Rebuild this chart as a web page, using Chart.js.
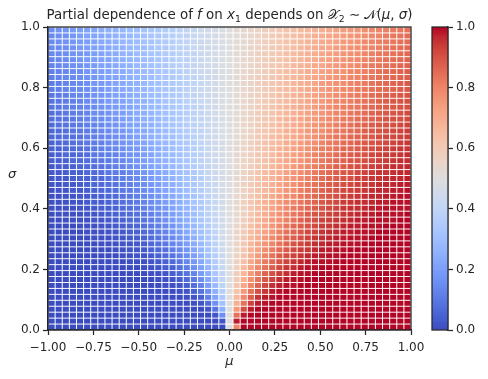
<!DOCTYPE html>
<html>
<head>
<meta charset="utf-8">
<script src="https://cdn.jsdelivr.net/npm/chart.js@4.4.1/dist/chart.umd.min.js"></script>
<style>
  html, body { margin: 0; padding: 0; background: #fff; }
  #wrap { position: relative; width: 488px; height: 379px; }
  #heat { position: absolute; left: 0; top: 0; }
  #cbar { position: absolute; left: 420px; top: 0; }
</style>
</head>
<body>
<div id="wrap">
  <canvas id="heat" width="436" height="379"></canvas>
  <canvas id="cbar" width="68" height="379"></canvas>
</div>
<script>
// ---- data ----
const muRange = [-1, 1];
const sigmaRange = [0, 1];
const muTicks = [-1, -0.75, -0.5, -0.25, 0, 0.25, 0.5, 0.75, 1];
const sigmaTicks = [0, 0.2, 0.4, 0.6, 0.8, 1];
const cbarTicks = [0, 0.2, 0.4, 0.6, 0.8, 1];

// partial dependence (percent), one row per sigma cell from the top (sigma = 1) down to sigma = 0,
// each row runs over mu from -1 to 1
const pdRows = [
  [16,17,18,19,20,21,22,24,25,26,27,29,30,32,33,34,36,37,39,41,42,44,45,47,48,50,52,53,55,56,58,59,61,63,64,66,67,68,70,71,73,74,75,76,78,79,80,81,82,83,84],
  [15,16,17,18,20,21,22,23,24,26,27,28,30,31,33,34,36,37,39,40,42,44,45,47,48,50,52,53,55,56,58,60,61,63,64,66,67,69,70,72,73,74,76,77,78,79,80,82,83,84,85],
  [15,16,17,18,19,20,21,23,24,25,27,28,29,31,32,34,35,37,39,40,42,43,45,47,48,50,52,53,55,57,58,60,61,63,65,66,68,69,71,72,73,75,76,77,79,80,81,82,83,84,85],
  [14,15,16,17,19,20,21,22,23,25,26,28,29,30,32,34,35,37,38,40,42,43,45,47,48,50,52,53,55,57,58,60,62,63,65,66,68,70,71,72,74,75,77,78,79,80,81,83,84,85,86],
  [14,15,16,17,18,19,20,22,23,24,26,27,29,30,32,33,35,36,38,40,41,43,45,47,48,50,52,53,55,57,59,60,62,64,65,67,68,70,71,73,74,76,77,78,80,81,82,83,84,85,86],
  [13,14,15,16,18,19,20,21,22,24,25,27,28,30,31,33,34,36,38,39,41,43,45,46,48,50,52,54,55,57,59,61,62,64,66,67,69,70,72,73,75,76,78,79,80,81,82,84,85,86,87],
  [13,14,15,16,17,18,19,21,22,23,25,26,28,29,31,32,34,36,38,39,41,43,45,46,48,50,52,54,55,57,59,61,62,64,66,68,69,71,72,74,75,77,78,79,81,82,83,84,85,86,87],
  [12,13,14,15,16,18,19,20,21,23,24,26,27,29,30,32,34,35,37,39,41,43,44,46,48,50,52,54,56,57,59,61,63,65,66,68,70,71,73,74,76,77,79,80,81,82,84,85,86,87,88],
  [12,13,14,15,16,17,18,20,21,22,24,25,27,28,30,32,33,35,37,39,41,42,44,46,48,50,52,54,56,58,59,61,63,65,67,68,70,72,73,75,76,78,79,80,82,83,84,85,86,87,88],
  [11,12,13,14,15,16,18,19,20,22,23,25,26,28,30,31,33,35,37,38,40,42,44,46,48,50,52,54,56,58,60,62,63,65,67,69,70,72,74,75,77,78,80,81,82,84,85,86,87,88,89],
  [11,12,13,14,15,16,17,18,20,21,23,24,26,27,29,31,33,34,36,38,40,42,44,46,48,50,52,54,56,58,60,62,64,66,67,69,71,73,74,76,77,79,80,82,83,84,85,86,87,88,89],
  [10,11,12,13,14,15,17,18,19,21,22,24,25,27,29,30,32,34,36,38,40,42,44,46,48,50,52,54,56,58,60,62,64,66,68,70,71,73,75,76,78,79,81,82,83,85,86,87,88,89,90],
  [9,10,11,12,13,15,16,17,19,20,21,23,25,26,28,30,32,34,36,38,40,42,44,46,48,50,52,54,56,58,60,62,64,66,68,70,72,74,75,77,79,80,81,83,84,85,87,88,89,90,91],
  [9,10,11,12,13,14,15,17,18,19,21,22,24,26,28,29,31,33,35,37,39,41,44,46,48,50,52,54,56,59,61,63,65,67,69,71,72,74,76,78,79,81,82,83,85,86,87,88,89,90,91],
  [8,9,10,11,12,13,15,16,17,19,20,22,24,25,27,29,31,33,35,37,39,41,43,46,48,50,52,54,57,59,61,63,65,67,69,71,73,75,76,78,80,81,83,84,85,87,88,89,90,91,92],
  [8,9,9,10,12,13,14,15,17,18,20,21,23,25,26,28,30,32,34,37,39,41,43,45,48,50,52,55,57,59,61,63,66,68,70,72,74,75,77,79,80,82,83,85,86,87,88,90,91,91,92],
  [7,8,9,10,11,12,13,14,16,17,19,21,22,24,26,28,30,32,34,36,38,41,43,45,48,50,52,55,57,59,62,64,66,68,70,72,74,76,78,79,81,83,84,86,87,88,89,90,91,92,93],
  [6,7,8,9,10,11,12,14,15,17,18,20,22,23,25,27,29,31,34,36,38,40,43,45,48,50,52,55,57,60,62,64,66,69,71,73,75,77,78,80,82,83,85,86,88,89,90,91,92,93,94],
  [6,7,8,8,9,11,12,13,14,16,17,19,21,23,25,27,29,31,33,35,38,40,43,45,48,50,52,55,57,60,62,65,67,69,71,73,75,77,79,81,83,84,86,87,88,89,91,92,92,93,94],
  [5,6,7,8,9,10,11,12,14,15,17,18,20,22,24,26,28,30,33,35,37,40,42,45,47,50,53,55,58,60,63,65,67,70,72,74,76,78,80,82,83,85,86,88,89,90,91,92,93,94,95],
  [5,5,6,7,8,9,10,12,13,14,16,18,19,21,23,25,27,30,32,34,37,39,42,45,47,50,53,55,58,61,63,66,68,70,73,75,77,79,81,82,84,86,87,88,90,91,92,93,94,95,95],
  [4,5,6,6,7,8,10,11,12,13,15,17,18,20,22,25,27,29,31,34,37,39,42,45,47,50,53,55,58,61,63,66,69,71,73,75,78,80,82,83,85,87,88,89,90,92,93,94,94,95,96],
  [4,4,5,6,7,8,9,10,11,13,14,16,18,20,22,24,26,28,31,33,36,39,42,44,47,50,53,56,58,61,64,67,69,72,74,76,78,80,82,84,86,87,89,90,91,92,93,94,95,96,96],
  [3,4,4,5,6,7,8,9,10,12,13,15,17,19,21,23,25,28,30,33,36,38,41,44,47,50,53,56,59,62,64,67,70,72,75,77,79,81,83,85,87,88,90,91,92,93,94,95,96,96,97],
  [3,3,4,5,5,6,7,8,10,11,12,14,16,18,20,22,24,27,30,32,35,38,41,44,47,50,53,56,59,62,65,68,70,73,76,78,80,82,84,86,88,89,90,92,93,94,95,95,96,97,97],
  [2,3,3,4,5,5,6,7,9,10,12,13,15,17,19,21,24,26,29,32,34,37,41,44,47,50,53,56,59,63,66,68,71,74,76,79,81,83,85,87,88,90,91,93,94,95,95,96,97,97,98],
  [2,2,3,3,4,5,6,7,8,9,11,12,14,16,18,20,23,25,28,31,34,37,40,43,47,50,53,57,60,63,66,69,72,75,77,80,82,84,86,88,89,91,92,93,94,95,96,97,97,98,98],
  [1,2,2,3,3,4,5,6,7,8,10,11,13,15,17,19,22,24,27,30,33,36,40,43,47,50,53,57,60,64,67,70,73,76,78,81,83,85,87,89,90,92,93,94,95,96,97,97,98,98,99],
  [1,1,2,2,3,3,4,5,6,7,9,10,12,14,16,18,21,23,26,29,32,36,39,43,46,50,54,57,61,64,68,71,74,77,79,82,84,86,88,90,91,93,94,95,96,97,97,98,98,99,99],
  [1,1,1,2,2,3,4,4,5,6,8,9,11,13,15,17,20,22,25,28,32,35,39,42,46,50,54,58,61,65,68,72,75,78,80,83,85,87,89,91,92,94,95,96,96,97,98,98,99,99,99],
  [1,1,1,1,2,2,3,4,4,5,7,8,10,12,14,16,18,21,24,27,31,34,38,42,46,50,54,58,62,66,69,73,76,79,82,84,86,88,90,92,93,95,96,96,97,98,98,99,99,99,99],
  [0,1,1,1,1,2,2,3,4,5,6,7,9,10,12,15,17,20,23,26,30,34,38,42,46,50,54,58,62,66,70,74,77,80,83,85,88,90,91,93,94,95,96,97,98,98,99,99,99,99,100],
  [0,0,1,1,1,1,2,2,3,4,5,6,7,9,11,13,16,19,22,25,29,33,37,41,46,50,54,59,63,67,71,75,78,81,84,87,89,91,93,94,95,96,97,98,98,99,99,99,99,100,100],
  [0,0,0,0,1,1,1,2,2,3,4,5,6,8,10,12,14,17,21,24,28,32,36,41,45,50,55,59,64,68,72,76,79,83,86,88,90,92,94,95,96,97,98,98,99,99,99,100,100,100,100],
  [0,0,0,0,0,1,1,1,2,2,3,4,5,7,8,11,13,16,19,23,27,31,35,40,45,50,55,60,65,69,73,77,81,84,87,89,92,93,95,96,97,98,98,99,99,99,100,100,100,100,100],
  [0,0,0,0,0,0,1,1,1,2,2,3,4,5,7,9,12,14,18,21,25,30,34,39,45,50,55,61,66,70,75,79,82,86,88,91,93,95,96,97,98,98,99,99,99,100,100,100,100,100,100],
  [0,0,0,0,0,0,0,1,1,1,2,2,3,4,6,8,10,13,16,20,24,28,33,39,44,50,56,61,67,72,76,80,84,87,90,92,94,96,97,98,98,99,99,99,100,100,100,100,100,100,100],
  [0,0,0,0,0,0,0,0,0,1,1,2,2,3,5,6,8,11,14,18,22,27,32,38,44,50,56,62,68,73,78,82,86,89,92,94,95,97,98,98,99,99,100,100,100,100,100,100,100,100,100],
  [0,0,0,0,0,0,0,0,0,0,1,1,2,2,3,5,7,9,12,16,20,25,31,37,43,50,57,63,69,75,80,84,88,91,93,95,97,98,98,99,99,100,100,100,100,100,100,100,100,100,100],
  [0,0,0,0,0,0,0,0,0,0,0,1,1,1,2,3,5,7,10,14,18,23,29,36,43,50,57,64,71,77,82,86,90,93,95,97,98,99,99,99,100,100,100,100,100,100,100,100,100,100,100],
  [0,0,0,0,0,0,0,0,0,0,0,0,0,1,1,2,4,5,8,12,16,21,27,34,42,50,58,66,73,79,84,88,92,95,96,98,99,99,100,100,100,100,100,100,100,100,100,100,100,100,100],
  [0,0,0,0,0,0,0,0,0,0,0,0,0,0,1,1,2,4,6,9,13,19,25,33,41,50,59,67,75,81,87,91,94,96,98,99,99,100,100,100,100,100,100,100,100,100,100,100,100,100,100],
  [0,0,0,0,0,0,0,0,0,0,0,0,0,0,0,1,1,2,4,7,11,16,23,31,40,50,60,69,77,84,89,93,96,98,99,99,100,100,100,100,100,100,100,100,100,100,100,100,100,100,100],
  [0,0,0,0,0,0,0,0,0,0,0,0,0,0,0,0,1,1,2,4,8,13,20,28,39,50,61,72,80,87,92,96,98,99,99,100,100,100,100,100,100,100,100,100,100,100,100,100,100,100,100],
  [0,0,0,0,0,0,0,0,0,0,0,0,0,0,0,0,0,0,1,2,5,9,16,25,37,50,63,75,84,91,95,98,99,100,100,100,100,100,100,100,100,100,100,100,100,100,100,100,100,100,100],
  [0,0,0,0,0,0,0,0,0,0,0,0,0,0,0,0,0,0,0,1,2,5,12,21,34,50,66,79,88,95,98,99,100,100,100,100,100,100,100,100,100,100,100,100,100,100,100,100,100,100,100],
  [0,0,0,0,0,0,0,0,0,0,0,0,0,0,0,0,0,0,0,0,1,2,7,16,31,50,69,84,93,98,99,100,100,100,100,100,100,100,100,100,100,100,100,100,100,100,100,100,100,100,100],
  [0,0,0,0,0,0,0,0,0,0,0,0,0,0,0,0,0,0,0,0,0,0,2,9,25,50,75,91,98,100,100,100,100,100,100,100,100,100,100,100,100,100,100,100,100,100,100,100,100,100,100],
  [0,0,0,0,0,0,0,0,0,0,0,0,0,0,0,0,0,0,0,0,0,0,0,2,16,50,84,98,100,100,100,100,100,100,100,100,100,100,100,100,100,100,100,100,100,100,100,100,100,100,100],
  [0,0,0,0,0,0,0,0,0,0,0,0,0,0,0,0,0,0,0,0,0,0,0,0,2,50,98,100,100,100,100,100,100,100,100,100,100,100,100,100,100,100,100,100,100,100,100,100,100,100,100],
  [0,0,0,0,0,0,0,0,0,0,0,0,0,0,0,0,0,0,0,0,0,0,0,0,0,50,80,100,100,100,100,100,100,100,100,100,100,100,100,100,100,100,100,100,100,100,100,100,100,100,100]
];

// ---- colours / fonts ----
// matplotlib "coolwarm" (Moreland), 33 control points
const coolwarm = [
  [59,76,192],[68,90,204],[77,104,215],[87,117,225],[98,130,234],[108,142,241],[119,154,247],[130,165,251],
  [141,176,254],[152,185,255],[163,194,255],[174,201,253],[184,208,249],[194,213,244],[204,217,238],[213,219,230],
  [221,221,221],[229,216,209],[236,211,197],[241,204,185],[245,196,173],[247,187,160],[247,177,148],[247,166,135],
  [244,154,123],[241,141,111],[236,127,99],[229,112,88],[222,96,77],[213,80,66],[203,62,56],[192,40,47],[180,4,38]
];
const INK = '#262626';
const FONT = '"DejaVu Sans", "Liberation Sans", sans-serif';

function cmap(t) {
    t = Math.min(1, Math.max(0, t));
    const p = t * (coolwarm.length - 1);
    const i = Math.min(Math.floor(p), coolwarm.length - 2);
    const f = p - i;
    const a = coolwarm[i], b = coolwarm[i + 1];
    const c = a.map((v, k) => Math.round(v + (b[k] - v) * f));
    return `rgb(${c[0]},${c[1]},${c[2]})`;
}

for (const r of pdRows) {
    if (r.length !== pdRows[0].length) { console.warn('row length mismatch', r.length); break; }
}

// build one floating bar per cell (like imshow with extent)
const nRows = pdRows.length;
const nCols = pdRows[0].length;
const cellW = (muRange[1] - muRange[0]) / nCols;
const cellH = (sigmaRange[1] - sigmaRange[0]) / nRows;
const gapY = cellH * 0.16;
const cells = [];
pdRows.forEach((row, r) => {
    const i = nRows - 1 - r;
    row.forEach((p, j) => {
        const lo = sigmaRange[0] + i * cellH;
        cells.push({
            x: muRange[0] + (j + 0.5) * cellW,
            y: [lo + gapY / 2, lo + cellH - gapY / 2],
            v: p / 100
        });
    });
});

const fmtMinus = s => s.replace('-', '\u2212');

// box around the plot area (all four spines)
const framePlugin = {
    id: 'frame',
    afterDraw(chart) {
        const a = chart.chartArea, ctx = chart.ctx;
        ctx.save();
        ctx.strokeStyle = INK;
        ctx.lineWidth = 1.25;
        ctx.strokeRect(a.left, a.top, a.right - a.left, a.bottom - a.top);
        ctx.restore();
    }
};

// title with math bits + axis labels
const titleParts = [
    ['Partial dependence of ', 'n'], ['f', 'i'], [' on ', 'n'], ['x', 'i'], ['1', 's'],
    [' depends on ', 'n'], ['\u{1D4B3}', 'c'], ['2', 's'], [' \u223C ', 'n'], ['\u{1D4A9}', 'c'],
    ['(', 'n'], ['\u03BC', 'i'], [', ', 'n'], ['\u03C3', 'i'], [')', 'n']
];
const partFont = {
    n: `13.4px ${FONT}`,
    i: `italic 13.4px ${FONT}`,
    s: `9.4px ${FONT}`,
    c: `13.4px ${FONT}`
};

const labelsPlugin = {
    id: 'labels',
    afterDraw(chart) {
        const a = chart.chartArea, ctx = chart.ctx;
        ctx.save();
        ctx.fillStyle = INK;
        ctx.textBaseline = 'alphabetic';
        ctx.textAlign = 'left';
        let total = 0;
        const widths = titleParts.map(([t, k]) => {
            ctx.font = partFont[k];
            const w = ctx.measureText(t).width;
            total += w;
            return w;
        });
        let x = (a.left + a.right) / 2 - total / 2;
        const base = 19;
        titleParts.forEach(([t, k], n) => {
            ctx.font = partFont[k];
            ctx.fillText(t, x, k === 's' ? base + 3 : base);
            x += widths[n];
        });

        ctx.font = `italic 13px ${FONT}`;
        ctx.textAlign = 'center';
        ctx.textBaseline = 'middle';
        ctx.fillText('\u03BC', (a.left + a.right) / 2, 362);
        ctx.fillText('\u03C3', 12, (a.top + a.bottom) / 2 - 4);
        ctx.restore();
    }
};

const tickFont = { family: FONT, size: 12 };

new Chart(document.getElementById('heat'), {
    type: 'bar',
    data: {
        datasets: [{
            data: cells,
            backgroundColor: c => (c.raw ? cmap(c.raw.v) : '#ddd'),
            borderWidth: 0,
            inflateAmount: 0,
            barPercentage: 0.86,
            categoryPercentage: 1
        }]
    },
    options: {
        responsive: false,
        animation: false,
        events: [],
        layout: { padding: { top: 27, right: 25, bottom: 0, left: 0 } },
        plugins: { legend: { display: false }, tooltip: { enabled: false }, title: { display: false } },
        scales: {
            x: {
                type: 'linear',
                offset: false,
                min: muRange[0],
                max: muRange[1],
                afterBuildTicks: s => { s.ticks = muTicks.map(v => ({ value: v })); },
                afterFit: s => { s.height = 49; s.paddingLeft = 0; s.paddingRight = 0; },
                ticks: {
                    font: tickFont, color: INK, padding: 6, maxRotation: 0, autoSkip: false,
                    callback: v => fmtMinus(Number(v).toFixed(2))
                },
                grid: { offset: false, drawOnChartArea: false, drawTicks: true, tickLength: 5, tickWidth: 1.25, tickColor: INK },
                border: { display: true, color: INK, width: 1.25 }
            },
            y: {
                type: 'linear',
                min: sigmaRange[0],
                max: sigmaRange[1],
                afterBuildTicks: s => { s.ticks = sigmaTicks.map(v => ({ value: v })); },
                afterFit: s => { s.width = 48; s.paddingTop = 0; s.paddingBottom = 0; },
                ticks: {
                    font: tickFont, color: INK, padding: 3, autoSkip: false,
                    callback: v => Number(v).toFixed(1)
                },
                grid: { drawOnChartArea: false, drawTicks: true, tickLength: 5, tickWidth: 1.25, tickColor: INK },
                border: { display: true, color: INK, width: 1.25 }
            }
        }
    },
    plugins: [framePlugin, labelsPlugin]
});

// ---- colour bar ----
const cbarSteps = 256;
const cbarCells = [];
for (let k = 0; k < cbarSteps; k++) {
    cbarCells.push({ x: 0, y: [k / cbarSteps, (k + 1) / cbarSteps], v: (k + 0.5) / cbarSteps });
}

new Chart(document.getElementById('cbar'), {
    type: 'bar',
    data: {
        datasets: [{
            data: cbarCells,
            backgroundColor: c => (c.raw ? cmap(c.raw.v) : '#ddd'),
            borderWidth: 0,
            inflateAmount: 0.4,
            barThickness: 16
        }]
    },
    options: {
        responsive: false,
        animation: false,
        events: [],
        layout: { padding: { top: 27, right: 0, bottom: 49, left: 12 } },
        plugins: { legend: { display: false }, tooltip: { enabled: false } },
        scales: {
            x: { type: 'linear', offset: false, min: -1, max: 1, display: false },
            y: {
                type: 'linear',
                position: 'right',
                min: 0,
                max: 1,
                afterBuildTicks: s => { s.ticks = cbarTicks.map(v => ({ value: v })); },
                afterFit: s => { s.width = 40; s.paddingTop = 0; s.paddingBottom = 0; },
                ticks: {
                    font: tickFont, color: INK, padding: 3, autoSkip: false,
                    callback: v => Number(v).toFixed(1)
                },
                grid: { drawOnChartArea: false, drawTicks: true, tickLength: 5, tickWidth: 1.25, tickColor: INK },
                border: { display: true, color: INK, width: 1.25 }
            }
        }
    },
    plugins: [framePlugin]
});
</script>
</body>
</html>
